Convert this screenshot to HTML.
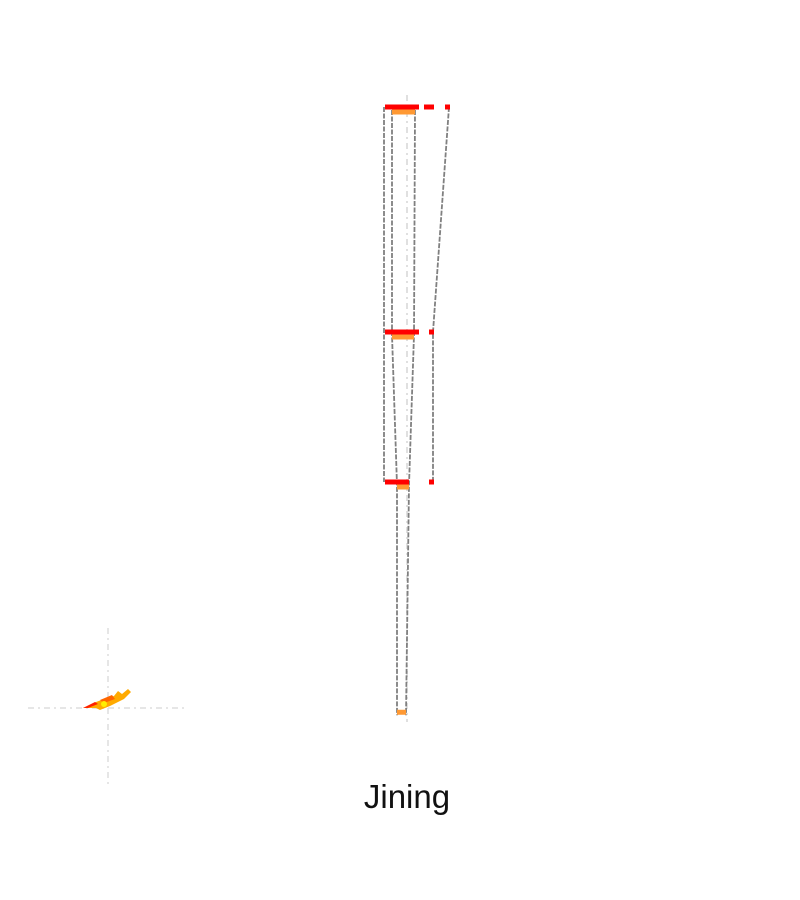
<!DOCTYPE html>
<html><head><meta charset="utf-8"><style>
body{margin:0;background:#fff;}
svg{display:block;font-family:"Liberation Sans",sans-serif;}
</style></head><body>
<svg id="c" width="800" height="900">
<g id="g"></g>
<text x="407" y="808" text-anchor="middle" font-size="33" fill="#111">Jining</text>
</svg>
<script>
const levels = ["L1","L2","L3","L4"];
const levelValues = [100, 70, 50, 19.3];
const redWidths = [34, 34, 24];
const outerWidths = [65, 49, 49];
const orangeWidths = [23, 22, 12, 9];
const innerLeft = [7, 7, 12, 12];

const x0 = 385;
function yScale(v){ return 107 + (100 - v) * 7.5; }
const NS = "http://www.w3.org/2000/svg";
const g = document.getElementById('g');
function mk(tag, attrs){ const e=document.createElementNS(NS,tag); for(const k in attrs) e.setAttribute(k,attrs[k]); g.appendChild(e); return e; }

let ax = mk('line',{x1:407,y1:95,x2:407,y2:722,stroke:'#e0e0e0','stroke-width':2,'stroke-dasharray':'6 4 2 4'});



const gl = {stroke:'#808080','stroke-width':1.8,fill:'none','stroke-dasharray':'5 1.5'};
let left = mk('polyline',Object.assign({points:`${x0-1},${yScale(levelValues[0])} ${x0-1},${yScale(levelValues[2])}`},gl));


let rp = levelValues.slice(0,3).map((v,i)=>`${x0+outerWidths[i]-1},${yScale(v)}`).join(' ');
let right = mk('polyline',Object.assign({points:rp},gl));


let ip = levelValues.map((v,i)=>`${x0+innerLeft[i]},${yScale(v)+3}`).join(' ');
let inL = mk('polyline',Object.assign({points:ip},gl));


let ipr = levelValues.map((v,i)=>`${x0+innerLeft[i]+orangeWidths[i]},${yScale(v)+3}`).join(' ');
let inR = mk('polyline',Object.assign({points:ipr},gl));



levelValues.slice(0,3).forEach((v,i)=>{
  const y=yScale(v)-2.5;
  let r=mk('rect',{x:x0,y:y,width:redWidths[i],height:5,fill:'#ff0000'});
  
  
  let t=mk('rect',{x:x0+outerWidths[i]-5,y:y,width:5,height:5,fill:'#ff0000'});
  
  
  if(i===0){
    let m=mk('rect',{x:x0+39,y:y,width:10,height:5,fill:'#ff0000'});
    
    
  }
});
levelValues.forEach((v,i)=>{
  const off = i===levelValues.length-1 ? -2.5 : 2.5;
  let o=mk('rect',{x:x0+innerLeft[i],y:yScale(v)+off,width:orangeWidths[i],height:5,fill:'#ff9933'});
  
  
});

const cr={stroke:'#ddd','stroke-width':1.5,'stroke-dasharray':'6 4 2 4'};
let h=mk('line',Object.assign({x1:28,y1:708,x2:188,y2:708},cr));


let vv=mk('line',Object.assign({x1:108,y1:628,x2:108,y2:788},cr));


let b1=mk('polygon',{points:'83,708 96,702 104,699 114,696 118,691 122,694 128,689 131,692 124,699 110,706 100,710 96,708',fill:'#ffaa00'});


let b2=mk('polygon',{points:'83,708 95,702 98,704 88,708',fill:'#ff2200'});


let b3=mk('polygon',{points:'100,700 112,695 115,699 104,703',fill:'#ff6600'});


let b4=mk('circle',{cx:104,cy:704,r:3,fill:'#ffee00'});


</script>
</body></html>
